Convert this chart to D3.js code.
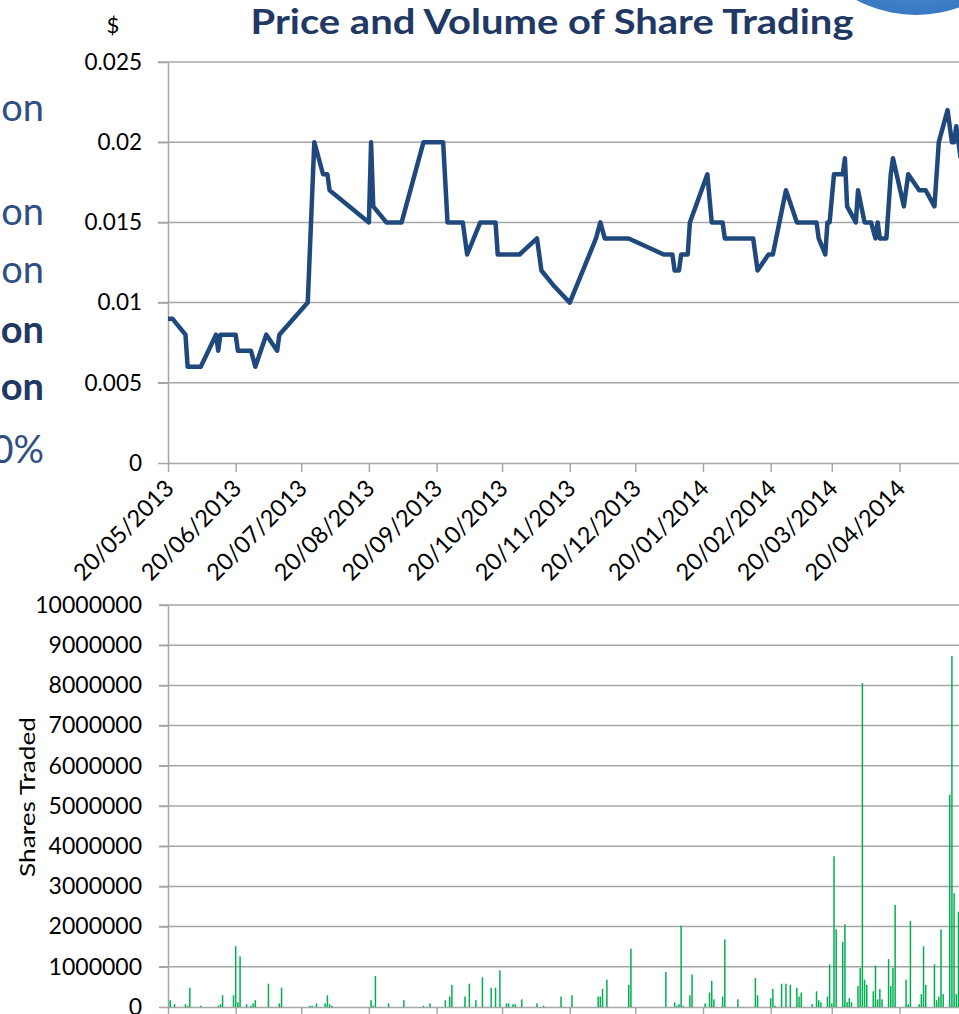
<!DOCTYPE html>
<html>
<head>
<meta charset="utf-8">
<script src="https://cdn.jsdelivr.net/npm/d3@7"></script>
<style>
  body { margin: 0; background: #fff; }
  svg { display: block; font-family: Lato, "Open Sans", sans-serif; }
  .grid line { stroke: #a6a6a6; stroke-width: 1.5; }
  .axis path, .axis line { stroke: #a6a6a6; stroke-width: 1.5; }
  .axis text { fill: #000; font-family: Lato, "Open Sans", sans-serif; }
</style>
</head>
<body>
<svg id="root" width="959" height="1014"></svg>
<script>
// price line
const priceDates = [
  "2013-05-20","2013-05-22","2013-05-28","2013-05-29","2013-06-04","2013-06-11","2013-06-12","2013-06-13",
  "2013-06-20","2013-06-21","2013-06-27","2013-06-29","2013-07-04","2013-07-09","2013-07-10","2013-07-23",
  "2013-07-26","2013-07-30","2013-08-01","2013-08-02","2013-08-20","2013-08-21","2013-08-22","2013-08-28",
  "2013-09-04","2013-09-14","2013-09-23","2013-09-25","2013-10-02","2013-10-04","2013-10-10","2013-10-17",
  "2013-10-18","2013-10-28","2013-11-05","2013-11-07","2013-11-13","2013-11-20","2013-12-02","2013-12-04",
  "2013-12-06","2013-12-17","2014-01-02","2014-01-06","2014-01-07","2014-01-09","2014-01-10","2014-01-13",
  "2014-01-14","2014-01-22","2014-01-24","2014-01-29","2014-01-30","2014-02-12","2014-02-14","2014-02-19",
  "2014-02-21","2014-02-27","2014-03-04","2014-03-13","2014-03-14","2014-03-17","2014-03-18","2014-03-19",
  "2014-03-21","2014-03-25","2014-03-26","2014-03-27","2014-03-31","2014-04-01","2014-04-04","2014-04-07",
  "2014-04-09","2014-04-10","2014-04-11","2014-04-14","2014-04-16","2014-04-17","2014-04-22","2014-04-24",
  "2014-04-29","2014-05-02","2014-05-06","2014-05-08","2014-05-12","2014-05-14","2014-05-15","2014-05-16",
  "2014-05-18"
];
const priceValues = [
  0.009,0.009,0.008,0.006,0.006,0.008,0.007,0.008,
  0.008,0.007,0.007,0.006,0.008,0.007,0.008,0.010,
  0.020,0.018,0.018,0.017,0.015,0.020,0.016,0.015,
  0.015,0.020,0.020,0.015,0.015,0.013,0.015,0.015,
  0.013,0.013,0.014,0.012,0.011,0.010,0.014,0.015,
  0.014,0.014,0.013,0.013,0.012,0.012,0.013,0.013,
  0.015,0.018,0.015,0.015,0.014,0.014,0.012,0.013,
  0.013,0.017,0.015,0.015,0.014,0.013,0.015,0.015,
  0.018,0.018,0.019,0.016,0.015,0.017,0.015,0.015,
  0.014,0.015,0.014,0.014,0.018,0.019,0.016,0.018,
  0.017,0.017,0.016,0.020,0.022,0.020,0.020,0.021,
  0.019
];

// daily volume
const volumeDates = [
  "2013-05-21","2013-05-23","2013-05-28","2013-05-29","2013-05-30","2013-06-04","2013-06-12","2013-06-13",
  "2013-06-14","2013-06-19","2013-06-20","2013-06-21","2013-06-22","2013-06-25","2013-06-27","2013-06-28",
  "2013-06-29","2013-07-05","2013-07-10","2013-07-11","2013-07-24","2013-07-25","2013-07-27","2013-07-31",
  "2013-08-01","2013-08-02","2013-08-03","2013-08-21","2013-08-22","2013-08-23","2013-08-29","2013-09-05",
  "2013-09-14","2013-09-17","2013-09-24","2013-09-26","2013-09-27","2013-10-03","2013-10-05","2013-10-08",
  "2013-10-11","2013-10-15","2013-10-17","2013-10-19","2013-10-22","2013-10-23","2013-10-25","2013-10-26",
  "2013-10-29","2013-11-05","2013-11-08","2013-11-16","2013-11-21","2013-12-03","2013-12-04","2013-12-05",
  "2013-12-07","2013-12-17","2013-12-18","2014-01-03","2014-01-07","2014-01-08","2014-01-09","2014-01-10",
  "2014-01-11","2014-01-14","2014-01-15","2014-01-21","2014-01-23","2014-01-24","2014-01-25","2014-01-29",
  "2014-01-30","2014-02-05","2014-02-13","2014-02-14","2014-02-20","2014-02-21","2014-02-22","2014-02-25",
  "2014-02-27","2014-03-01","2014-03-04","2014-03-05","2014-03-06","2014-03-11","2014-03-13","2014-03-14",
  "2014-03-15","2014-03-18","2014-03-19","2014-03-20","2014-03-21","2014-03-22","2014-03-25","2014-03-26",
  "2014-03-27","2014-03-28","2014-03-29","2014-04-01","2014-04-02","2014-04-03","2014-04-04","2014-04-05",
  "2014-04-08","2014-04-09","2014-04-10","2014-04-11","2014-04-12","2014-04-15","2014-04-16","2014-04-17",
  "2014-04-18","2014-04-23","2014-04-24","2014-04-25","2014-04-29","2014-04-30","2014-05-01","2014-05-02",
  "2014-05-06","2014-05-07","2014-05-08","2014-05-09","2014-05-10","2014-05-13","2014-05-14","2014-05-15",
  "2014-05-16","2014-05-17"
];
const volumeValues = [
  170000,70000,70000,30000,480000,30000,30000,70000,
  290000,290000,1510000,120000,1260000,70000,30000,90000,
  170000,580000,90000,480000,30000,30000,90000,90000,
  290000,70000,30000,170000,30000,770000,90000,170000,
  30000,90000,170000,260000,550000,260000,580000,170000,
  740000,480000,480000,910000,90000,90000,70000,70000,
  190000,90000,30000,260000,290000,260000,260000,450000,
  680000,550000,1450000,870000,120000,30000,70000,2020000,
  30000,290000,810000,90000,360000,650000,190000,260000,
  1680000,190000,720000,290000,220000,450000,30000,580000,
  580000,550000,480000,260000,360000,70000,390000,170000,
  120000,260000,1060000,90000,3750000,1930000,1620000,2060000,
  120000,220000,120000,520000,970000,8060000,680000,550000,
  390000,1030000,190000,450000,190000,1190000,520000,970000,
  2540000,680000,70000,2140000,70000,320000,1510000,550000,
  1060000,170000,260000,1930000,320000,5280000,8730000,2830000,
  320000,2370000
];

const dateTicks = ["2013-05-20","2013-06-20","2013-07-20","2013-08-20","2013-09-20","2013-10-20",
                   "2013-11-20","2013-12-20","2014-01-20","2014-02-20","2014-03-20","2014-04-20"];
const priceTicks = [0, 0.005, 0.01, 0.015, 0.02, 0.025];
const priceTickLabels = ["0", "0.005", "0.01", "0.015", "0.02", "0.025"];
const volumeTicks = [0, 1000000, 2000000, 3000000, 4000000, 5000000, 6000000, 7000000, 8000000, 9000000, 10000000];
const volumeTickLabels = ["0","1000000","2000000","3000000","4000000","5000000","6000000","7000000","8000000","9000000","10000000"];

// tail ends of the slide text left of the chart
const sideNotes = ["on", "on", "on", "on", "on", "0%"];
const sideBold = [false, false, false, true, true, false];

const parse = d3.utcParse("%Y-%m-%d");
const price = priceDates.map((d, i) => ({ date: parse(d), value: priceValues[i] }));
const volume = volumeDates.map((d, i) => ({ date: parse(d), value: volumeValues[i] }));

const svg = d3.select('#root');
const left = 168;
const rightEdge = 959;

const xScale = d3.scaleUtc()
    .domain([parse("2013-05-20"), parse("2014-05-20")])
    .range([left, left + 365 * 2.1836]);

const yPrice = d3.scaleLinear().domain([0, 0.025]).range([463, 62]);
const yVol = d3.scaleLinear().domain([0, 10000000]).range([1007, 605]);

// logo corner
const grad = svg.append('defs').append('radialGradient')
    .attr('id', 'globe').attr('cx', '50%').attr('cy', '30%').attr('r', '75%');
grad.append('stop').attr('offset', '0%').attr('stop-color', '#9cc3ec');
grad.append('stop').attr('offset', '100%').attr('stop-color', '#2f74c0');
svg.append('circle')
    .attr('cx', 916).attr('cy', -112).attr('r', 127)
    .attr('fill', 'url(#globe)');

// title and side text
svg.append('text')
    .attr('x', 552).attr('y', 34)
    .attr('text-anchor', 'middle')
    .attr('font-size', 34).attr('font-weight', 700)
    .attr('fill', '#1f3864')
    .attr('textLength', 603).attr('lengthAdjust', 'spacingAndGlyphs')
    .text('Price and Volume of Share Trading');

svg.append('text')
    .attr('x', 113).attr('y', 33)
    .attr('text-anchor', 'middle')
    .attr('font-size', 22)
    .text('$');

const noteY = [121, 225, 283, 343, 400, 463];
svg.selectAll('.note')
    .data(sideNotes)
    .enter()
    .append('text')
        .attr('class', 'note')
        .attr('x', 44)
        .attr('y', (d, i) => noteY[i])
        .attr('text-anchor', 'end')
        .attr('font-size', 38)
        .attr('font-weight', (d, i) => sideBold[i] ? 700 : 400)
        .attr('fill', (d, i) => sideBold[i] ? '#1f3864' : '#2f4f82')
        .text(d => d);

// ---- price chart ----
const priceChart = svg.append('g');

priceChart.append('g').attr('class', 'grid')
    .selectAll('line')
    .data(priceTicks.slice(1))
    .enter()
    .append('line')
        .attr('x1', left - 10).attr('x2', rightEdge)
        .attr('y1', d => yPrice(d)).attr('y2', d => yPrice(d));

priceChart.append('g')
    .attr('class', 'axis')
    .attr('transform', `translate(${left}, 0)`)
    .call(d3.axisLeft(yPrice).tickValues(priceTicks)
        .tickFormat((d, i) => priceTickLabels[i])
        .tickSize(10).tickSizeOuter(0).tickPadding(16))
    .call(g => g.selectAll('text').attr('font-size', 22.5));

priceChart.append('g')
    .attr('class', 'axis')
    .attr('transform', 'translate(0, 463)')
    .call(d3.axisBottom(xScale).tickValues(dateTicks.map(parse))
        .tickFormat(d3.utcFormat('%d/%m/%Y'))
        .tickSize(9).tickSizeOuter(0))
    .call(g => g.selectAll('text')
        .attr('x', 0).attr('y', 0).attr('dy', '0.35em')
        .attr('text-anchor', 'end')
        .attr('font-size', 23.5)
        .attr('transform', 'translate(1, 21) rotate(-45)'));

priceChart.append('path')
    .datum(price)
    .attr('fill', 'none')
    .attr('stroke', '#1f497d')
    .attr('stroke-width', 4.5)
    .attr('stroke-linejoin', 'round')
    .attr('d', d3.line().x(d => xScale(d.date)).y(d => yPrice(d.value)));

// ---- volume chart ----
const volumeChart = svg.append('g');

volumeChart.append('g').attr('class', 'grid')
    .selectAll('line')
    .data(volumeTicks.slice(1))
    .enter()
    .append('line')
        .attr('x1', left - 9).attr('x2', rightEdge)
        .attr('y1', d => yVol(d)).attr('y2', d => yVol(d));

volumeChart.append('g')
    .attr('class', 'axis')
    .attr('transform', `translate(${left}, 0)`)
    .call(d3.axisLeft(yVol).tickValues(volumeTicks)
        .tickFormat((d, i) => volumeTickLabels[i])
        .tickSize(9).tickSizeOuter(0).tickPadding(17))
    .call(g => g.selectAll('text').attr('font-size', 23));

volumeChart.append('g')
    .attr('class', 'axis')
    .attr('transform', 'translate(0, 1007)')
    .call(d3.axisBottom(xScale).tickValues(dateTicks.map(parse))
        .tickFormat('').tickSize(9).tickSizeOuter(0));

volumeChart.selectAll('.bar')
    .data(volume)
    .enter()
    .append('rect')
        .attr('class', 'bar')
        .attr('x', d => xScale(d.date) - 0.75)
        .attr('width', 1.5)
        .attr('y', d => yVol(d.value))
        .attr('height', d => yVol(0) - yVol(d.value))
        .attr('fill', '#00b050');

svg.append('text')
    .attr('transform', 'translate(35, 797) rotate(-90)')
    .attr('text-anchor', 'middle')
    .attr('font-size', 22)
    .attr('textLength', 160).attr('lengthAdjust', 'spacingAndGlyphs')
    .text('Shares Traded');
</script>
</body>
</html>
